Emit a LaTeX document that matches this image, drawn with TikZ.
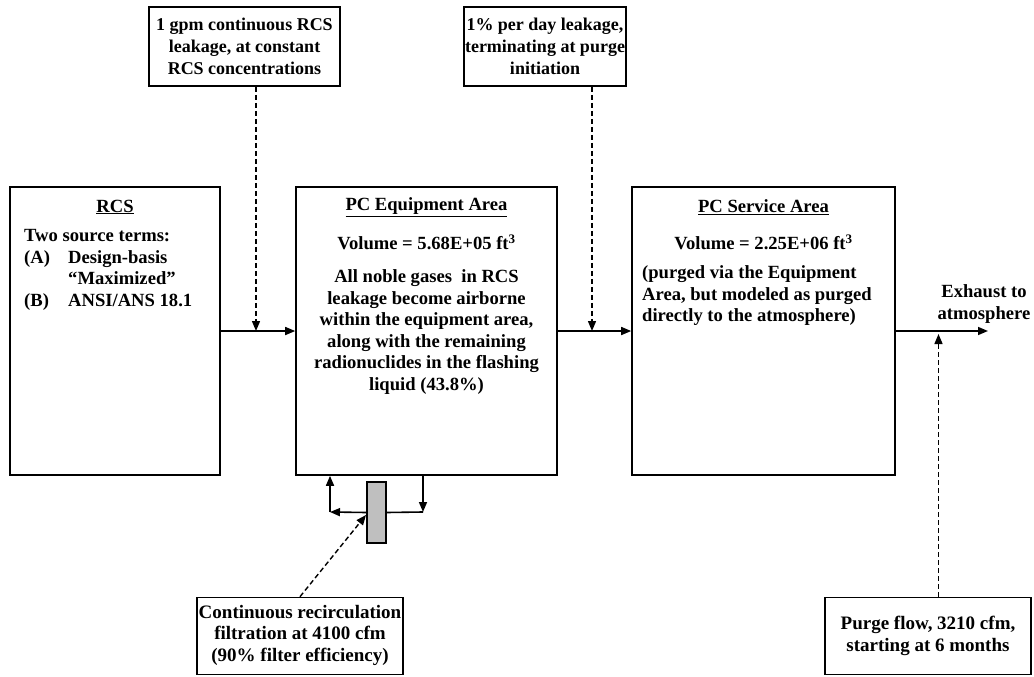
\documentclass[tikz,border=0pt]{standalone}
\usepackage{fontspec}
\setmainfont{Liberation Serif}
\usetikzlibrary{arrows.meta}
\begin{document}
\begin{tikzpicture}[x=1pt,y=-1pt,
  box/.style={draw,line width=1.6pt,inner sep=0pt},
  txt/.style={font=\fontsize{18.6}{21.5}\selectfont\bfseries,inner sep=0pt,align=center},
  ltxt/.style={font=\fontsize{18.6}{21.5}\selectfont\bfseries,inner sep=0pt,align=left,anchor=west},
  btxt/.style={font=\fontsize{18.6}{21.5}\selectfont\bfseries,inner sep=0pt,anchor=base west},
  smtxt/.style={txt,font=\fontsize{18}{22}\selectfont\bfseries},
  bigtxt/.style={txt,font=\fontsize{19}{21.5}\selectfont\bfseries},
  flow/.style={line width=1.6pt,-{Triangle[length=10pt,width=8pt]}},
  plain/.style={line width=1.6pt},
  dflow/.style={line width=1.4pt,dash pattern=on 5pt off 3pt,-{Triangle[length=10pt,width=8pt]}}]
\useasboundingbox (0,0) rectangle (1034,677);
% boxes
\node[box,minimum width=210pt,minimum height=288pt] (rcs) at (115,331) {};
\node[box,minimum width=261pt,minimum height=288pt] (pce) at (426.5,331) {};
\node[box,minimum width=263pt,minimum height=288pt] (pcs) at (763.5,331) {};
\node[box,minimum width=191pt,minimum height=79pt] (top1) at (244.5,46.5) {};
\node[box,minimum width=162pt,minimum height=79pt] (top2) at (545,46.5) {};
\node[box,minimum width=206pt,minimum height=77pt] (recbox) at (300,636) {};
\node[box,minimum width=206pt,minimum height=77pt] (purge) at (928,636) {};
\node[draw,line width=1.6pt,fill=black!25,minimum width=19pt,minimum height=61pt,inner sep=0pt] (filt) at (376.5,512.5) {};
% texts
\node[smtxt] (t1) at (244.5,46) {1 gpm continuous RCS\\leakage, at constant\\RCS concentrations};
\node[smtxt] (t2) at (545,46) {1\% per day leakage,\\terminating at purge\\initiation};
\node[txt] (rcst) at (115,207) {\underline{RCS}};
\node[btxt] (rl1) at (24,241) {Two source terms:};
\node[btxt] (rl2) at (24,263) {(A)};
\node[btxt] (rl3) at (68,263) {Design-basis};
\node[btxt] (rl4) at (68,284) {“Maximized”};
\node[btxt] (rl5) at (24,306) {(B)};
\node[btxt] (rl6) at (68,306) {ANSI/ANS 18.1};
\node[txt] (pcet) at (426.5,207) {\underline{PC Equipment Area}};
\node[txt] (pcev) at (426.5,242) {Volume = 5.68E+05 ft\textsuperscript{3}};
\node[txt] (pcep) at (426.5,332) {All noble gases\ \ in RCS\\leakage become airborne\\within the equipment area,\\along with the remaining\\radionuclides in the flashing\\liquid (43.8\%)};
\node[txt] (pcst) at (763.5,207) {\underline{PC Service Area}};
\node[txt] (pcsv) at (763.5,242) {Volume = 2.25E+06 ft\textsuperscript{3}};
\node[ltxt] (pcsp) at (642,296) {(purged via the Equipment\\Area, but modeled as purged\\directly to the atmosphere)};
\node[txt] (ext) at (984,304) {Exhaust to\\atmosphere};
\node[bigtxt] (rect) at (300,635) {Continuous recirculation\\filtration at 4100 cfm\\(90\% filter efficiency)};
\node[bigtxt] (purt) at (928,636) {Purge flow, 3210 cfm,\\starting at 6 months};
% coordinates
\coordinate (d1) at (256,331);
\coordinate (d2) at (592,331);
\coordinate (ex) at (988,331);
\coordinate (pd) at (938.5,334);
\coordinate (c1) at (330,512);
\coordinate (c2) at (423,512);
\coordinate (ft) at (366,515);
\coordinate (rd) at (300,597.5);
% connectors
\draw[flow] (rcs.east) -- (pce.west);
\draw[flow] (pce.east) -- (pcs.west);
\draw[flow] (pcs.east) -- (ex);
\draw[dflow] (top1.south -| d1) -- (d1);
\draw[dflow] (top2.south -| d2) -- (d2);
\draw[dflow] (purge.north -| pd) -- (pd);
\draw[flow] (filt.west) -- (c1);
\draw[flow] (c1) -- (pce.south -| c1);
\draw[plain] (filt.east) -- (c2);
\draw[flow] (pce.south -| c2) -- (c2);
\draw[dflow] (recbox.north -| rd) -- (ft);
\end{tikzpicture}
\end{document}
